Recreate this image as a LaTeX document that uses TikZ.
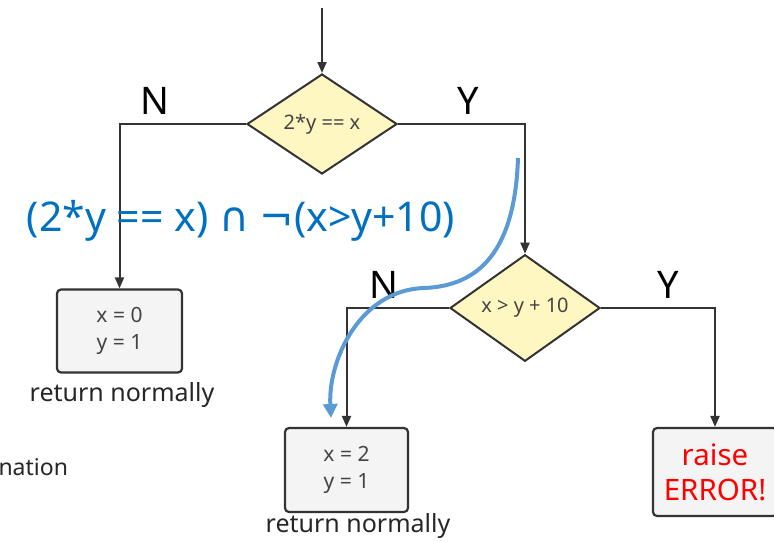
\documentclass[tikz,border=0pt]{standalone}
\usepackage{fontspec}
\setmainfont{Noto Sans}
\newfontfamily\symfont{DejaVu Sans}
\usetikzlibrary{shapes.geometric,arrows.meta}
\definecolor{linec}{HTML}{333333}
\definecolor{diafill}{HTML}{FFF7C2}
\definecolor{boxfill}{HTML}{F4F4F4}
\definecolor{txtgray}{HTML}{444444}
\definecolor{bluec}{HTML}{0070C0}
\definecolor{curvec}{HTML}{5B9BD5}
\begin{document}
\begin{tikzpicture}[x=1pt,y=-1pt,
  conn/.style={draw=linec,line width=2pt,-{Triangle[length=11pt,width=9pt]}},
  decision/.style={diamond,draw=linec,line width=2pt,fill=diafill,inner sep=0pt,minimum width=150pt,minimum height=100pt,font=\fontsize{20}{24}\selectfont,text=txtgray},
  resultbox/.style={rectangle,rounded corners=4pt,draw=linec,line width=2.2pt,fill=boxfill,align=center,font=\fontsize{21}{27}\selectfont,text=txtgray},
  caption/.style={font=\fontsize{25}{29}\selectfont,text=black!85},
  branch/.style={font=\fontsize{38}{40}\selectfont,text=black}]
\useasboundingbox (0,0) rectangle (774,541);
\begin{scope}
\clip (0,0) rectangle (774,541);
\coordinate (start) at (322,8);
\node[decision] (d1) at (322,124) {2*y == x};
\node[decision] (d2) at (525,308) {x > y + 10};
\node[resultbox,minimum width=125pt,minimum height=83pt] (b1) at (119.5,331) {x = 0\\y = 1};
\node[resultbox,minimum width=123pt,minimum height=84pt] (b2) at (346.5,470) {x = 2\\y = 1};
\node[resultbox,minimum width=124pt,minimum height=88pt,text=red,font=\fontsize{29.5}{35}\selectfont] (b3) at (715,472) {raise\\ERROR!};
\draw[conn] (start) -- (d1.north);
\draw[conn] (d1.west) -| (b1.north);
\draw[conn] (d1.east) -| (d2.north);
\draw[conn] (d2.west) -| (b2.north);
\draw[conn] (d2.east) -| (b3.north);
\node[caption] (c1) at (122,395) {return normally};
\node[caption] (c2) at (358,526) {return normally};
\node[caption,anchor=west,font=\fontsize{23}{27}\selectfont] (c3) at (-5,467) {nation};
\node[branch] (n1) at (155,101) {N};
\node[branch] (y1) at (468,101) {Y};
\node[branch] (n2) at (384,285) {N};
\node[branch] (y2) at (668,285) {Y};
\node[font=\fontsize{41}{45}\selectfont,text=bluec] (cond) at (241,221) {(2*y == x) {\symfont ∩} {\symfont ¬}(x>y+10)};
\coordinate (cs) at (518,158);
\coordinate (cm) at (424,288);
\coordinate (ce) at (331,418);
\draw[curvec,line width=4pt,-{Triangle[length=14pt,width=14pt]}] (cs) .. controls (515,250) and (480,286) .. (cm) .. controls (360,290) and (328,360) .. (ce);
\end{scope}
\end{tikzpicture}
\end{document}
